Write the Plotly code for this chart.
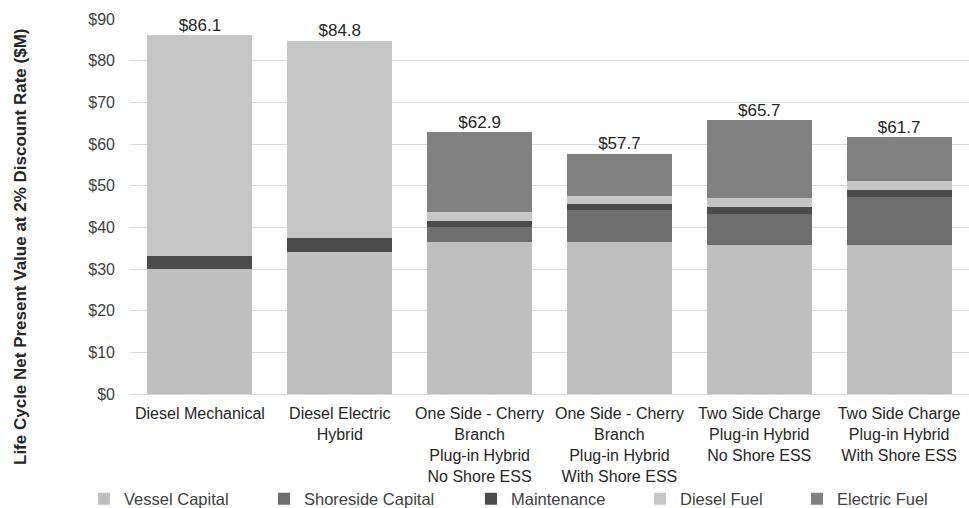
import plotly.graph_objects as go

categories = [
    "Diesel Mechanical",
    "Diesel Electric<br>Hybrid",
    "One Side - Cherry<br>Branch<br>Plug-in Hybrid<br>No Shore ESS",
    "One Side - Cherry<br>Branch<br>Plug-in Hybrid<br>With Shore ESS",
    "Two Side Charge<br>Plug-in Hybrid<br>No Shore ESS",
    "Two Side Charge<br>Plug-in Hybrid<br>With Shore ESS",
]
vessel_capital = [29.9, 34.0, 36.6, 36.6, 35.7, 35.7]
shoreside_capital = [0.0, 0.0, 3.6, 7.6, 7.6, 11.7]
maintenance = [3.3, 3.4, 1.4, 1.3, 1.6, 1.6]
diesel_fuel = [52.9, 47.4, 2.1, 2.1, 2.1, 2.2]
electric_fuel = [0.0, 0.0, 19.2, 10.1, 18.7, 10.5]
totals = [86.1, 84.8, 62.9, 57.7, 65.7, 61.7]
total_labels = ["$%.1f" % t for t in totals]
y_ticks = [0, 10, 20, 30, 40, 50, 60, 70, 80, 90]
y_tick_labels = ["$%d" % v for v in y_ticks]

series = [
    ("Vessel Capital", vessel_capital, "#bfbfbf"),
    ("Shoreside Capital", shoreside_capital, "#6e6e6e"),
    ("Maintenance", maintenance, "#4b4b4b"),
    ("Diesel Fuel", diesel_fuel, "#c6c6c6"),
    ("Electric Fuel", electric_fuel, "#818181"),
]
legend_x = [-0.0548, 0.1597, 0.4064, 0.6079, 0.795]

FONT = "Liberation Sans, Arial"
fig = go.Figure()
for i, (name, vals, col) in enumerate(series):
    lg = "legend" if i == 0 else "legend%d" % (i + 1)
    fig.add_trace(go.Bar(
        x=categories, y=vals, name=name, marker=dict(color=col, line=dict(width=0)),
        legend=lg, hoverinfo="name+y",
    ))

fig.add_trace(go.Scatter(
    x=categories, y=totals, mode="text", text=total_labels,
    textposition="top center", textfont=dict(size=17, color="#262626", family=FONT),
    showlegend=False, hoverinfo="skip",
))

layout_legends = {}
for i in range(5):
    key = "legend" if i == 0 else "legend%d" % (i + 1)
    layout_legends[key] = dict(
        x=legend_x[i], xref="paper", xanchor="left",
        y=(394 - 499) / 375.0, yref="paper", yanchor="middle",
        orientation="h", bgcolor="rgba(0,0,0,0)",
        font=dict(size=16.5, color="#404040", family=FONT),
        itemwidth=30, tracegroupgap=0,
    )

fig.update_layout(
    barmode="stack",
    bargap=0.25,
    width=969, height=508,
    margin=dict(l=130, r=0, t=19, b=114, pad=0, autoexpand=False),
    plot_bgcolor="white", paper_bgcolor="white",
    font=dict(family=FONT, size=16, color="#404040"),
    xaxis=dict(
        tickfont=dict(size=16, color="#262626"),
        showgrid=False, showline=True, linecolor="#d9d9d9", linewidth=1,
        ticks="", ticklabelstandoff=5, automargin=False,
    ),
    yaxis=dict(
        range=[0, 90], tickvals=y_ticks, ticktext=y_tick_labels,
        tickfont=dict(size=16, color="#404040"),
        showgrid=True, gridcolor="#d9d9d9", gridwidth=1,
        zeroline=False, showline=False, ticks="", ticklabelstandoff=14,
        automargin=False,
    ),
    annotations=[dict(
        text="<b>Life Cycle Net Present Value at 2% Discount Rate ($M)</b>",
        x=(20 - 130) / 839.0, xref="paper", y=(394 - 247) / 375.0, yref="paper",
        textangle=-90, showarrow=False,
        font=dict(size=17, color="#262626", family=FONT),
        xanchor="center", yanchor="middle",
    )],
    **layout_legends,
)

fig.write_html("out.html")
